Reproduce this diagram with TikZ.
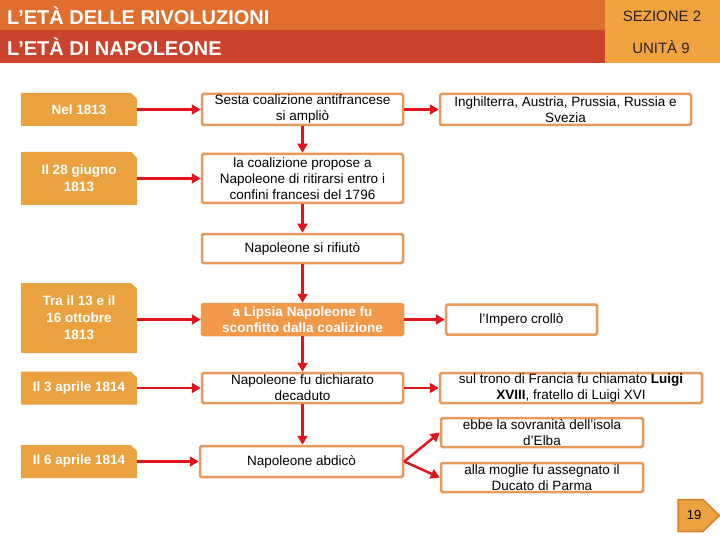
\documentclass[tikz,border=0pt]{standalone}
\usepackage{fontspec}
\setmainfont{Liberation Sans}
\usetikzlibrary{arrows.meta}
\definecolor{topbar}{HTML}{E06E2E}
\definecolor{redbar}{HTML}{C9432D}
\definecolor{panel}{HTML}{F0A33E}
\definecolor{datefill}{HTML}{E9A23F}
\definecolor{boxline}{HTML}{E89A5C}
\definecolor{lipsia}{HTML}{F2984A}
\definecolor{arrowred}{HTML}{E0151B}
\definecolor{pagedark}{HTML}{D97E2A}
\begin{document}
\begin{tikzpicture}[x=1pt,y=-1pt,
  datebox/.style={minimum width=116pt, inner sep=0pt, align=center, text=white,
    font=\bfseries\fontsize{13.5}{17}\selectfont,
    path picture={\fill[datefill] (path picture bounding box.south west) -- (path picture bounding box.south east)
      -- ([yshift=-6pt]path picture bounding box.north east) -- ([xshift=-6pt]path picture bounding box.north east)
      -- (path picture bounding box.north west) -- cycle;}},
  evbox/.style={draw=boxline, line width=2.5pt, rounded corners=1.5pt, fill=white, inner sep=0pt, align=center,
    font=\fontsize{13.5}{16}\selectfont},
  hibox/.style={evbox, fill=lipsia, draw=lipsia, text=white, font=\bfseries\fontsize{13.5}{16}\selectfont},
  arr/.style={draw=arrowred, line width=2.5pt, -{Triangle[length=9pt,width=10pt]}},
  hdr/.style={anchor=west, text=white, inner sep=0pt, font=\bfseries\fontsize{20}{24}\selectfont},
  hdrr/.style={text=black!85, inner sep=0pt, font=\fontsize{15}{18}\selectfont}]
\useasboundingbox (0,0) rectangle (720,540);
% header
\fill[topbar] (0,0) rectangle (605,30.5);
\fill[redbar] (0,30.5) rectangle (605,63);
\fill[panel] (605,0) rectangle (720,63);
\node[hdr] (t1) at (7,15.5) {L’ETÀ DELLE RIVOLUZIONI};
\node[hdr] (t2) at (7,47) {L’ETÀ DI NAPOLEONE};
\node[hdrr] (s1) at (662,16) {SEZIONE 2};
\node[hdrr] (s2) at (661,47.5) {UNITÀ 9};
% dates
\node[datebox, minimum height=33pt] (d1) at (79,109.5) {Nel 1813};
\node[datebox, minimum height=53pt] (d2) at (79,178.5) {Il 28 giugno\\1813};
\node[datebox, minimum height=70pt] (d3) at (79,318) {Tra il 13 e il\\16 ottobre\\1813};
\node[datebox, minimum height=33pt] (d4) at (79,388) {Il 3 aprile 1814};
\node[datebox, minimum height=33pt] (d5) at (79,461.5) {Il 6 aprile 1814};
% middle column
\node[evbox, minimum width=201pt, minimum height=31pt] (m1) at (302.5,109.5) {Sesta coalizione antifrancese\\si ampliò};
\node[evbox, minimum width=201pt, minimum height=49pt] (m2) at (302.5,178.5) {la coalizione propose a\\Napoleone di ritirarsi entro i\\confini francesi del 1796};
\node[evbox, minimum width=201pt, minimum height=29pt] (m3) at (302.5,248.5) {Napoleone si rifiutò};
\node[hibox, minimum width=201pt, minimum height=31pt] (m4) at (302.5,319.5) {a Lipsia Napoleone fu\\sconfitto dalla coalizione};
\node[evbox, minimum width=201pt, minimum height=30pt] (m5) at (302.5,388) {Napoleone fu dichiarato\\decaduto};
\node[evbox, minimum width=203pt, minimum height=31pt] (m6) at (301.5,461.5) {Napoleone abdicò};
% right column
\node[evbox, minimum width=251pt, minimum height=31pt] (r1) at (565.5,109.5) {Inghilterra, Austria, Prussia, Russia e\\Svezia};
\node[evbox, minimum width=151pt, minimum height=30pt] (r2) at (521.5,319.5) {l'Impero crollò};
\node[evbox, minimum width=262pt, minimum height=30pt] (r3) at (571,388) {sul trono di Francia fu chiamato \textbf{Luigi}\\\textbf{XVIII}, fratello di Luigi XVI};
\node[evbox, minimum width=202pt, minimum height=29pt] (r4) at (542,432.5) {ebbe la sovranità dell'isola\\d'Elba};
\node[evbox, minimum width=202pt, minimum height=29pt] (r5) at (542,477.5) {alla moglie fu assegnato il\\Ducato di Parma};
% arrows
\draw[arr] (d1.east) -- (m1.west);
\draw[arr] (m1.east) -- (r1.west);
\draw[arr] (m1.south) -- (m2.north);
\draw[arr] (d2.east) -- (m2.west);
\draw[arr] (m2.south) -- (m3.north);
\draw[arr] (m3.south) -- (m4.north);
\draw[arr] (d3.east |- m4.west) -- (m4.west);
\draw[arr] (m4.east) -- (r2.west);
\draw[arr] (m4.south) -- (m5.north);
\draw[arr] (d4.east) -- (m5.west);
\draw[arr] (m5.east) -- (r3.west);
\draw[arr] (m5.south) -- (m5.south |- m6.north);
\draw[arr] (d5.east) -- (m6.west);
\draw[arr] (m6.east) -- (r4.west);
\draw[arr] (m6.east) -- (r5.west);
% page number
\draw[fill=datefill, draw=pagedark, line width=1.5pt] (678,499.5) -- (703,499.5) -- (719.5,515.5) -- (703,531.5) -- (678,531.5) -- cycle;
\node[inner sep=0pt, font=\fontsize{13}{15}\selectfont] (pg) at (694,515.5) {19};
\end{tikzpicture}
\end{document}
